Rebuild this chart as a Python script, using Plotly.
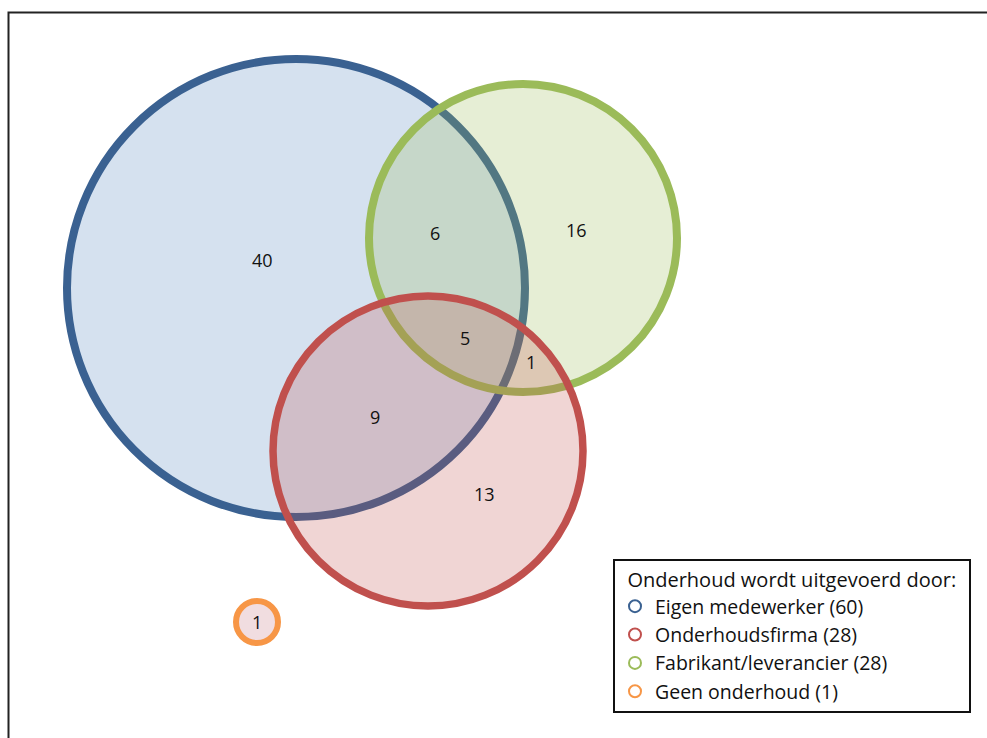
import plotly.graph_objects as go

# Data
group_names = ["Eigen medewerker", "Onderhoudsfirma", "Fabrikant/leverancier", "Geen onderhoud"]
group_totals = [60, 28, 28, 1]
legend_title = "Onderhoud wordt uitgevoerd door:"
region_labels = ["Eigen", "Eigen+Fabrikant", "Fabrikant", "Alle drie", "Fabrikant+Firma", "Eigen+Firma", "Firma", "Geen"]
region_counts = [40, 6, 16, 5, 1, 9, 13, 1]

# Layout (pixel coordinates on a 987x738 canvas, y downward)
circle_geo = {  # cx, cy, r (stroke centre)
    "Eigen medewerker": (296, 288, 229),
    "Fabrikant/leverancier": (523, 238, 154),
    "Onderhoudsfirma": (428, 451, 155),
    "Geen onderhoud": (257, 622, 21),
}
draw_order = ["Eigen medewerker", "Fabrikant/leverancier", "Onderhoudsfirma", "Geen onderhoud"]
line_colors = {
    "Eigen medewerker": "#3A6191",
    "Onderhoudsfirma": "#C0504D",
    "Fabrikant/leverancier": "#9BBB59",
    "Geen onderhoud": "#F79646",
}
fill_colors = {
    "Eigen medewerker": "rgba(79,129,189,0.24)",
    "Onderhoudsfirma": "rgba(192,80,77,0.24)",
    "Fabrikant/leverancier": "rgba(155,187,89,0.25)",
    "Geen onderhoud": "rgba(200,120,130,0.25)",
}
line_widths = {"Eigen medewerker": 8, "Onderhoudsfirma": 7.5, "Fabrikant/leverancier": 8, "Geen onderhoud": 6}
label_pos = [(262, 260), (435, 233), (576, 230), (465, 338), (531, 362), (375, 417), (484, 494), (257, 622)]

W, H = 987, 738
FONT = "'Open Sans', Lato, sans-serif"

fig = go.Figure()

shapes = []
# outer frame
shapes.append(dict(type="rect", xref="x", yref="y", x0=8.5, y0=12.5, x1=1000, y1=760,
                   line=dict(color="#222222", width=2), fillcolor="rgba(0,0,0,0)"))
for name in draw_order:
    cx, cy, r = circle_geo[name]
    shapes.append(dict(type="circle", xref="x", yref="y", x0=cx - r, y0=cy - r, x1=cx + r, y1=cy + r,
                       line=dict(color=line_colors[name], width=line_widths[name]),
                       fillcolor=fill_colors[name], layer="above"))

annotations = []
for cnt, (x, y) in zip(region_counts, label_pos):
    annotations.append(dict(x=x, y=y, xref="x", yref="y", text=str(cnt), showarrow=False,
                            font=dict(family=FONT, size=18, color="#111111")))

# legend traces
for name, tot in zip(group_names, group_totals):
    fig.add_trace(go.Scatter(x=[None], y=[None], mode="markers", name=f"{name} ({tot})",
                             marker=dict(symbol="circle-open", size=12, color=line_colors[name],
                                         line=dict(width=3, color=line_colors[name]))))

pad = "\u00a0\u00a0"
fig.update_layout(
    width=W, height=H, margin=dict(l=0, r=0, t=0, b=0),
    paper_bgcolor="white", plot_bgcolor="white",
    xaxis=dict(range=[0, W], visible=False, fixedrange=True),
    yaxis=dict(range=[H, 0], visible=False, fixedrange=True),
    shapes=shapes, annotations=annotations,
    showlegend=True,
    legend=dict(title=dict(text=pad + legend_title + pad, font=dict(family=FONT, size=20, color="#111111")),
                x=613 / W, y=1 - 559 / H, xanchor="left", yanchor="top",
                bgcolor="white", bordercolor="#111111", borderwidth=2,
                font=dict(family=FONT, size=19.5, color="#111111"),
                itemsizing="constant"),
)

fig.write_html("out.html")
